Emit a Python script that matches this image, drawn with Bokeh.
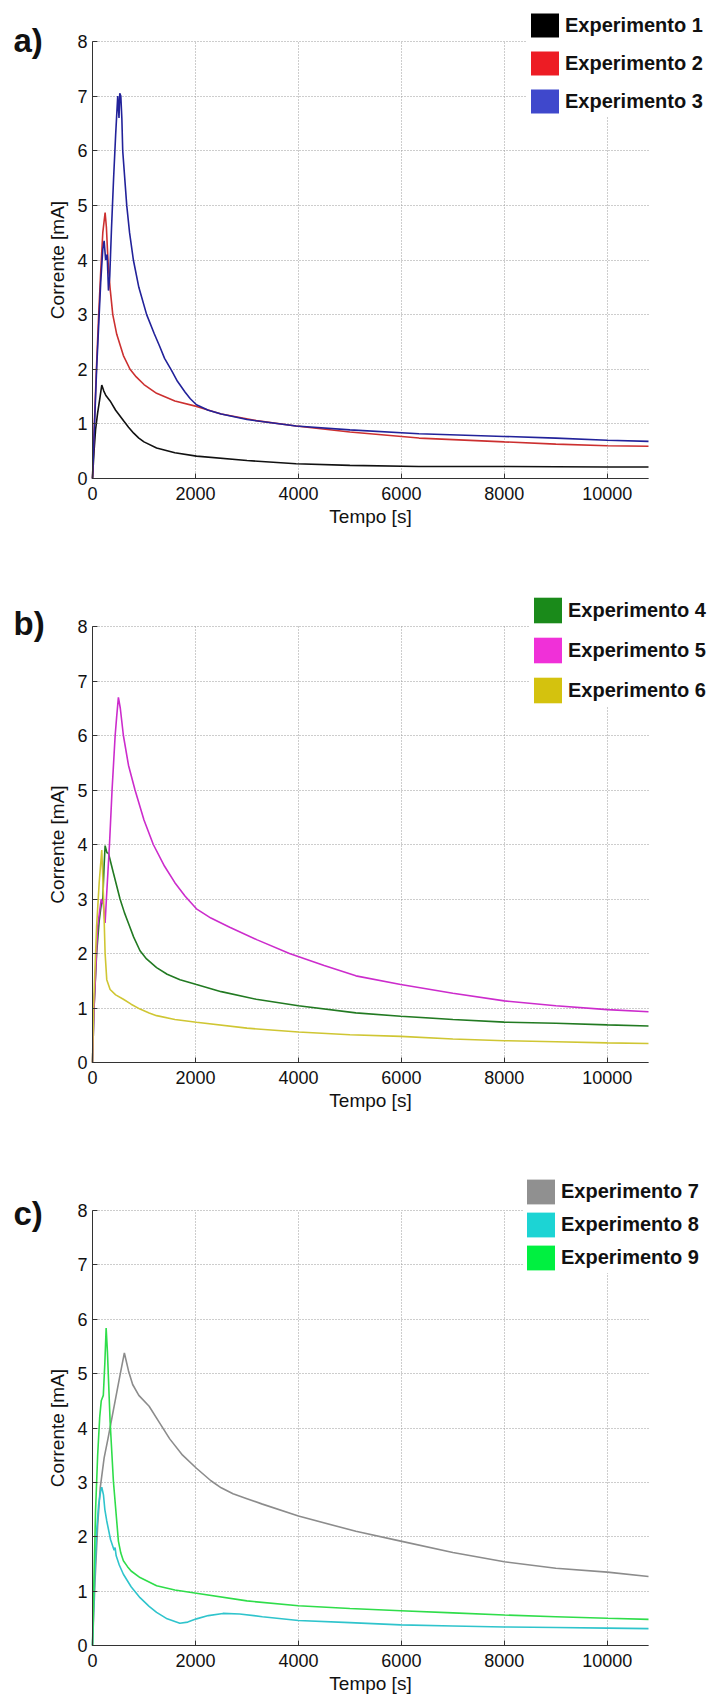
from bokeh.plotting import figure
from bokeh.models import Range1d, FixedTicker, Legend, LegendItem, Label
from bokeh.layouts import column
from bokeh.embed import file_html
from bokeh.resources import INLINE

# ---------------- data ----------------
x_ticks = [0, 2000, 4000, 6000, 8000, 10000]
y_ticks = [0, 1, 2, 3, 4, 5, 6, 7, 8]
x_max = 10800
y_max = 8
x_label = "Tempo [s]"
y_label = "Corrente [mA]"
panel_tags = ["a)", "b)", "c)"]

exp1_t = [0, 30, 60, 100, 140, 180, 220, 260, 342, 450, 600, 700, 800, 900, 1000, 1245, 1600, 2019, 3000, 3955, 5000, 6342, 8000, 9000, 10000, 10800]
exp1_i = [0, 0.5, 0.9, 1.2, 1.45, 1.71, 1.6, 1.52, 1.42, 1.25, 1.06, 0.94, 0.83, 0.74, 0.67, 0.56, 0.47, 0.41, 0.33, 0.27, 0.24, 0.22, 0.22, 0.215, 0.21, 0.21]

exp2_t = [0, 40, 80, 120, 160, 200, 245, 270, 300, 340, 394, 471, 600, 729, 850, 1000, 1245, 1600, 2019, 2500, 3180, 3955, 5000, 6342, 8000, 9000, 10000, 10800]
exp2_i = [0, 1.1, 2.1, 3.0, 3.8, 4.5, 4.87, 4.6, 4.0, 3.5, 3.0, 2.64, 2.25, 2.0, 1.86, 1.72, 1.56, 1.42, 1.32, 1.18, 1.06, 0.96, 0.85, 0.74, 0.67, 0.63, 0.60, 0.59]

exp3_t = [0, 40, 80, 120, 160, 200, 226, 255, 285, 310, 335, 370, 410, 450, 490, 515, 530, 550, 570, 587, 665, 720, 794, 900, 1052, 1200, 1300, 1400, 1535, 1650, 1800, 1900, 2019, 2250, 2500, 3000, 3955, 5000, 6342, 8000, 9000, 10000, 10800]
exp3_i = [0, 1.0, 2.0, 2.8, 3.6, 4.2, 4.35, 4.0, 4.1, 3.44, 3.7, 4.6, 5.5, 6.3, 7.0, 6.6, 7.05, 7.0, 6.6, 6.0, 5.0, 4.5, 4.0, 3.5, 3.0, 2.65, 2.43, 2.2, 1.98, 1.78, 1.58, 1.46, 1.35, 1.25, 1.18, 1.08, 0.96, 0.89, 0.82, 0.77, 0.74, 0.70, 0.68]

exp4_t = [0, 30, 80, 130, 170, 200, 225, 245, 280, 310, 400, 535, 620, 700, 800, 923, 1050, 1245, 1450, 1700, 2019, 2500, 3180, 4000, 5116, 5987, 7000, 8000, 9000, 10000, 10800]
exp4_i = [0, 1.0, 2.0, 2.6, 2.9, 3.0, 3.6, 3.98, 3.85, 3.84, 3.5, 3.0, 2.75, 2.55, 2.3, 2.05, 1.9, 1.74, 1.62, 1.52, 1.43, 1.3, 1.16, 1.04, 0.91, 0.85, 0.79, 0.74, 0.72, 0.69, 0.67]

exp5_t = [0, 30, 100, 170, 210, 245, 270, 330, 380, 440, 470, 503, 540, 600, 700, 826, 1000, 1181, 1400, 1600, 1800, 2019, 2300, 2665, 3200, 3826, 4500, 5116, 5987, 7000, 8000, 9000, 10000, 10800]
exp5_i = [0, 1.0, 2.5, 3.0, 2.9, 2.56, 3.0, 4.0, 5.0, 6.0, 6.35, 6.7, 6.5, 6.0, 5.45, 5.0, 4.45, 4.0, 3.6, 3.3, 3.05, 2.82, 2.65, 2.48, 2.25, 2.0, 1.78, 1.59, 1.43, 1.27, 1.13, 1.04, 0.97, 0.93]

exp6_t = [0, 20, 80, 130, 180, 215, 245, 277, 342, 450, 600, 750, 923, 1100, 1245, 1600, 2019, 3000, 4000, 5000, 5987, 7000, 8000, 9000, 10000, 10800]
exp6_i = [0, 1.0, 2.5, 3.3, 3.9, 3.0, 2.0, 1.52, 1.34, 1.24, 1.16, 1.07, 0.98, 0.91, 0.86, 0.79, 0.74, 0.63, 0.56, 0.51, 0.48, 0.43, 0.40, 0.38, 0.36, 0.35]

exp7_t = [0, 50, 100, 150, 226, 300, 380, 450, 530, 619, 700, 780, 900, 1100, 1300, 1500, 1750, 2019, 2300, 2500, 2729, 3000, 3300, 4000, 5116, 5987, 7000, 8000, 9000, 10000, 10800]
exp7_i = [0, 1.2, 2.2, 2.9, 3.45, 3.8, 4.2, 4.55, 4.95, 5.38, 5.05, 4.8, 4.6, 4.4, 4.1, 3.8, 3.5, 3.26, 3.03, 2.9, 2.79, 2.7, 2.6, 2.38, 2.10, 1.92, 1.71, 1.54, 1.42, 1.35, 1.27]

exp8_t = [0, 40, 80, 120, 160, 180, 213, 240, 277, 350, 420, 439, 460, 520, 600, 750, 923, 1100, 1245, 1450, 1697, 1850, 2019, 2250, 2535, 2858, 3300, 4000, 5000, 5987, 7000, 8000, 9000, 10000, 10800]
exp8_i = [0, 1.2, 2.1, 2.6, 2.85, 2.91, 2.77, 2.5, 2.29, 1.95, 1.75, 1.8, 1.65, 1.48, 1.31, 1.08, 0.88, 0.72, 0.61, 0.49, 0.41, 0.43, 0.49, 0.55, 0.59, 0.58, 0.53, 0.46, 0.42, 0.38, 0.36, 0.34, 0.33, 0.32, 0.31]

exp9_t = [0, 30, 60, 100, 140, 170, 210, 240, 265, 290, 342, 406, 503, 550, 600, 680, 750, 923, 1245, 1600, 2019, 3000, 4000, 5000, 5987, 7000, 8000, 9000, 10000, 10800]
exp9_i = [0, 1.3, 2.5, 3.5, 4.2, 4.5, 4.6, 5.2, 5.84, 5.4, 4.12, 3.02, 1.92, 1.7, 1.56, 1.45, 1.37, 1.25, 1.10, 1.02, 0.96, 0.82, 0.73, 0.68, 0.64, 0.60, 0.56, 0.53, 0.50, 0.48]

names = ["Experimento %d" % k for k in range(1, 10)]
line_colors = ["#111111", "#cc3030", "#22229a", "#227a22", "#cc2ccc", "#cfc633", "#8c8c8c", "#2fc4cc", "#2fdd4a"]
legend_colors = ["#000000", "#ed1c24", "#3f48cc", "#1a8a1a", "#f030d8", "#d4c20e", "#909090", "#1cd4d4", "#00f040"]

series_t = [exp1_t, exp2_t, exp3_t, exp4_t, exp5_t, exp6_t, exp7_t, exp8_t, exp9_t]
series_i = [exp1_i, exp2_i, exp3_i, exp4_i, exp5_i, exp6_i, exp7_i, exp8_i, exp9_i]

# ---------------- layout (pixels) ----------------
FONT = "Liberation Sans"
W = 710
FRAME_LEFT = 92
FRAME_RIGHT = 648
# per panel: figure height, px of y=8, px of y=0, legend (left, top), glyph_h, spacing, tag baseline
panels = [
    dict(h=568, top=41, bottom=478, leg_left=527, leg_top=-1, gh=30, sp=7.5, tag_base=40),
    dict(h=584, top=58, bottom=494, leg_left=530, leg_top=15, gh=32, sp=7.5, tag_base=55),
    dict(h=554, top=58, bottom=493, leg_left=523, leg_top=13, gh=31, sp=1.5, tag_base=61),
]
PAD = 6
GW = 35


def make_panel(k):
    cfg = panels[k]
    H = cfg["h"]
    sx = x_max / (FRAME_RIGHT - FRAME_LEFT)
    sy = y_max / (cfg["bottom"] - cfg["top"])
    p = figure(width=W, height=H, min_border=0,
               x_range=Range1d(-FRAME_LEFT * sx, x_max + (W - FRAME_RIGHT) * sx),
               y_range=Range1d(-(H - cfg["bottom"]) * sy, y_max + cfg["top"] * sy),
               output_backend="svg", toolbar_location=None)
    p.title.visible = False
    p.outline_line_color = None
    p.background_fill_color = "white"
    p.border_fill_color = "white"

    p.xaxis.ticker = FixedTicker(ticks=x_ticks)
    p.yaxis.ticker = FixedTicker(ticks=y_ticks)
    p.xaxis.fixed_location = 0
    p.yaxis.fixed_location = 0
    p.xaxis.bounds = (0, x_max)
    p.yaxis.bounds = (0, y_max)
    for ax in (p.xaxis[0], p.yaxis[0]):
        ax.axis_line_color = "#333333"
        ax.axis_line_width = 1
        ax.major_tick_in = 5
        ax.major_tick_out = 0
        ax.major_tick_line_color = "#333333"
        ax.minor_tick_line_color = None
        ax.major_label_text_font = FONT
        ax.major_label_text_font_size = "18px"
        ax.major_label_text_color = "#111111"
        ax.axis_label_text_font = FONT
        ax.axis_label_text_font_size = "19px"
        ax.axis_label_text_font_style = "normal"
        ax.axis_label_text_color = "#111111"
    p.xaxis.axis_label = x_label
    p.yaxis.axis_label = y_label
    p.xaxis.major_label_standoff = 8
    p.xaxis.axis_label_standoff = 3
    p.yaxis.major_label_standoff = 5
    p.yaxis.axis_label_standoff = 6

    p.xgrid.cross_bounds = (0, y_max)
    p.ygrid.cross_bounds = (0, x_max)
    for g in (p.xgrid[0], p.ygrid[0]):
        g.grid_line_color = "#9a9a9a"
        g.grid_line_dash = "1 2"
        g.grid_line_width = 1

    items = []
    for j in range(3 * k, 3 * k + 3):
        p.line(series_t[j], series_i[j], line_color=line_colors[j], line_width=1.6)
    for j in range(3 * k, 3 * k + 3):
        r = p.varea(x=series_t[j], y1=[0] * len(series_t[j]), y2=series_i[j],
                    fill_color=legend_colors[j], visible=False)
        items.append(LegendItem(label=names[j], renderers=[r]))

    leg_h = 2 * PAD + 3 * cfg["gh"] + 2 * cfg["sp"]
    leg_bottom = cfg["leg_top"] + leg_h
    legend = Legend(items=items, location=(cfg["leg_left"], H - leg_bottom),
                    glyph_width=GW, glyph_height=cfg["gh"],
                    spacing=int(round(cfg["sp"])), padding=PAD, margin=0, label_standoff=3,
                    label_text_font=FONT, label_text_font_size="20px",
                    label_text_font_style="bold", label_text_color="#111111",
                    label_height=20,
                    background_fill_color="white", background_fill_alpha=1.0,
                    border_line_color=None, inactive_fill_alpha=0.0)
    p.add_layout(legend)

    p.add_layout(Label(x=13, y=H - cfg["tag_base"], x_units="screen", y_units="screen",
                       text=panel_tags[k], text_font=FONT, text_font_size="33px",
                       text_font_style="bold", text_color="#111111",
                       text_baseline="alphabetic", text_align="left"))
    return p


plots = [make_panel(k) for k in range(3)]
layout = column(*plots, spacing=0)
open("out.html", "w").write(file_html(layout, INLINE))
